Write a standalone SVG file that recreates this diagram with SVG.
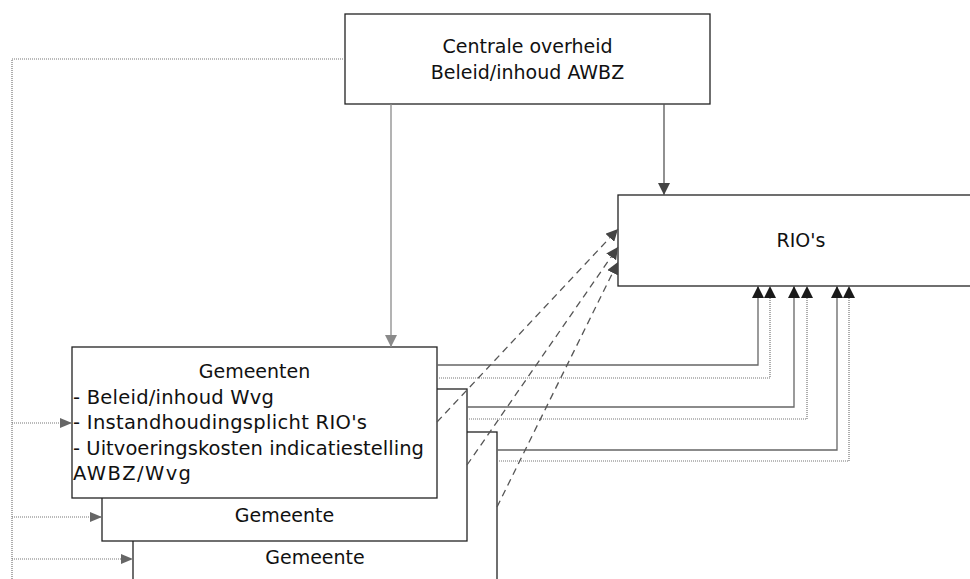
<svg xmlns="http://www.w3.org/2000/svg" width="970" height="579" viewBox="0 0 970 579">
<style>
.box{fill:#fff;stroke:#222;stroke-width:1.3}
.t{font-family:"DejaVu Sans",Verdana,sans-serif;font-size:19px;fill:#111}
.l{font-size:19.5px}
.c{text-anchor:middle}
.dot{fill:none;stroke:#777;stroke-width:1.2;stroke-dasharray:1 1}
.sol{fill:none;stroke:#666;stroke-width:1.3}
.dash{fill:none;stroke:#555;stroke-width:1.3;stroke-dasharray:7 5}
</style>
<defs>
<marker id="ag" markerWidth="12" markerHeight="12" refX="12" refY="6" orient="auto" markerUnits="userSpaceOnUse"><path d="M0,0 L12,6 L0,12 z" fill="#8a8a8a"/></marker>
<marker id="ad" markerWidth="12" markerHeight="12" refX="12" refY="6" orient="auto" markerUnits="userSpaceOnUse"><path d="M0,0 L12,6 L0,12 z" fill="#444"/></marker>
<marker id="ab" markerWidth="12" markerHeight="12" refX="12" refY="6" orient="auto" markerUnits="userSpaceOnUse"><path d="M0,0 L12,6 L0,12 z" fill="#1a1a1a"/></marker>
<marker id="al" markerWidth="12" markerHeight="10" refX="12" refY="5" orient="auto" markerUnits="userSpaceOnUse"><path d="M0,0 L12,5 L0,10 z" fill="#666"/></marker>
</defs>

<g id="gemeente3">
<rect class="box" x="133" y="432" width="364" height="170"/>
<text class="t c" x="315" y="564">Gemeente</text>
</g>
<g id="gemeente2">
<rect class="box" x="102" y="389" width="365" height="152"/>
<text class="t c" x="284.5" y="522">Gemeente</text>
</g>
<g id="gemeenten">
<rect class="box" x="72" y="347" width="365" height="151"/>
<text class="t c" x="254.5" y="378">Gemeenten</text>
<text class="t l" x="73" y="403.5" textLength="201">- Beleid/inhoud Wvg</text>
<text class="t l" x="73" y="429" textLength="294">- Instandhoudingsplicht RIO's</text>
<text class="t l" x="73" y="454.5" textLength="351">- Uitvoeringskosten indicatiestelling</text>
<text class="t l" x="73" y="480" textLength="118">AWBZ/Wvg</text>
</g>
<g id="centrale">
<rect class="box" x="345" y="14" width="365" height="90"/>
<text class="t c" x="527.5" y="53">Centrale overheid</text>
<text class="t c" x="527.5" y="79">Beleid/inhoud AWBZ</text>
</g>
<g id="rios">
<rect class="box" x="618" y="195" width="370" height="91"/>
<text class="t c" x="801" y="247">RIO's</text>
</g>

<g id="connectors">
<path class="dot" d="M345,59 H12 V579"/>
<path class="dot" d="M12,423 H72" marker-end="url(#al)"/>
<path class="dot" d="M12,517 H102" marker-end="url(#al)"/>
<path class="dot" d="M12,559 H133" marker-end="url(#al)"/>
<path d="M391,104 V347" fill="none" stroke="#8a8a8a" stroke-width="1.3" marker-end="url(#ag)"/>
<path d="M664,104 V195" fill="none" stroke="#555" stroke-width="1.3" marker-end="url(#ad)"/>
<path class="sol" d="M437,365 H758 V286" marker-end="url(#ab)"/>
<path class="dot" d="M437,378 H770 V286" marker-end="url(#ab)"/>
<path class="sol" d="M467,407 H794 V286" stroke="#444" marker-end="url(#ab)"/>
<path class="dot" d="M467,419 H807 V286" marker-end="url(#ab)"/>
<path class="sol" d="M497,450 H837 V286" marker-end="url(#ab)"/>
<path class="dot" d="M497,461 H849 V286" marker-end="url(#ab)"/>
<path class="dash" d="M437,422 L618,229" marker-end="url(#ad)"/>
<path class="dash" d="M467,465 L618,247" marker-end="url(#ad)"/>
<path class="dash" d="M497,507 L618,262" marker-end="url(#ad)"/>
</g>
</svg>
